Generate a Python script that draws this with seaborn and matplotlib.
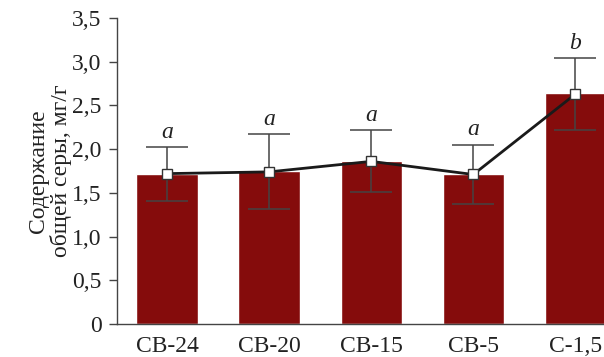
import matplotlib
matplotlib.use("Agg")
import matplotlib.pyplot as plt
import seaborn as sns
import numpy as np
import pandas as pd

categories = ["CB-24", "CB-20", "CB-15", "CB-5", "C-1,5"]
bar_values = [1.72, 1.75, 1.86, 1.71, 2.64]
point_values = [1.72, 1.74, 1.86, 1.71, 2.63]
err_upper = [2.02, 2.17, 2.22, 2.05, 3.04]
err_lower = [1.41, 1.31, 1.51, 1.37, 2.22]
letters = ["a", "a", "a", "a", "b"]
yticks = [0, 0.5, 1.0, 1.5, 2.0, 2.5, 3.0, 3.5]
ytick_labels = ["0", "0,5", "1,0", "1,5", "2,0", "2,5", "3,0", "3,5"]

sns.set_style("white")
plt.rcParams["font.family"] = ["Liberation Serif", "DejaVu Serif"]

fig = plt.figure(figsize=(6.04, 3.57), dpi=100)
ax = fig.add_axes([117/604, (357-324)/357, (604-117)/604, (324-18)/357])

df = pd.DataFrame({"cat": categories, "val": bar_values})
sns.barplot(data=df, x="cat", y="val", color="#850C0C", saturation=1, width=0.6, ax=ax, zorder=1)

x = np.arange(len(categories))
pv = np.array(point_values)
yerr = np.vstack([pv - np.array(err_lower), np.array(err_upper) - pv])
ax.errorbar(x, pv, yerr=yerr, fmt="none", ecolor="#444444", elinewidth=1.1, capsize=15, capthick=1.1, zorder=2)
ax.plot(x, pv, color="#1a1a1a", lw=2.0, zorder=3, marker="s", markersize=6.5,
        markerfacecolor="white", markeredgecolor="#333333", markeredgewidth=1.0)

for xi, top, let in zip(x, err_upper, letters):
    ax.text(xi, top + 0.05, let, ha="center", va="bottom", fontsize=17, style="italic", color="#222222")

ax.set_xlim(-0.49, 4.28)
ax.set_ylim(0, 3.5)
ax.set_yticks(yticks)
ax.set_yticklabels(ytick_labels, fontsize=17, color="#222222")
ax.set_xticklabels(categories, fontsize=17, color="#222222")
ax.set_xlabel("")
ax.set_ylabel("Содержание\nобщей серы, мг/г", fontsize=17, color="#222222", labelpad=0, linespacing=1.05)

for s in ["top", "right"]:
    ax.spines[s].set_visible(False)
for s in ["left", "bottom"]:
    ax.spines[s].set_color("#444444")
    ax.spines[s].set_linewidth(1.0)
ax.tick_params(axis="y", direction="out", length=6, width=1.0, color="#444444", pad=5, left=True)
ax.tick_params(axis="x", length=0, pad=9)

fig.savefig("out.png", dpi=100)
